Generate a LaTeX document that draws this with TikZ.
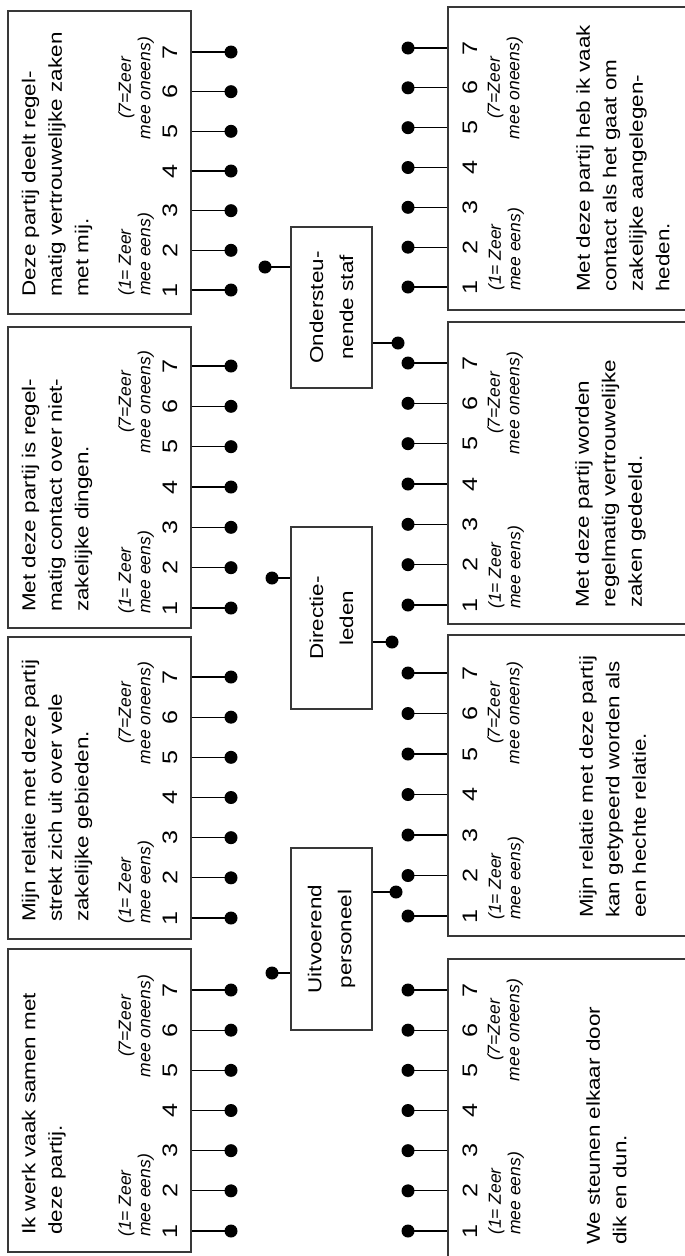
\documentclass[tikz,border=0pt]{standalone}
\usepackage{fontspec}
\setmainfont{Liberation Sans}[FakeStretch=1.2]
\newfontfamily\lblfont{Liberation Sans}
\begin{document}
\begin{tikzpicture}[x=1pt,y=-1pt,
  frame/.style={draw=black!78, line width=1.1pt, fill=white, inner sep=0pt},
  dot/.style={circle, fill=black, inner sep=0pt, minimum size=13pt},
  link/.style={draw=black, line width=1.2pt},
  stmt/.style={rotate=90, align=left, inner sep=0pt, anchor=north west,
    font=\fontsize{18.7}{26.5}\selectfont},
  group/.style={rotate=90, align=center, inner sep=0pt,
    font=\fontsize{18.7}{30}\selectfont},
  num/.style={rotate=90, inner sep=0pt, font=\fontsize{21}{21}\selectfont},
  scalelbl/.style={rotate=90, inner sep=0pt, font=\lblfont\itshape\fontsize{17.5}{19.5}\selectfont}
]
\useasboundingbox (0,0) rectangle (685,1256);
\clip (0,0) rectangle (685,1256);

% statement boxes, left column
\node[frame, minimum width=183pt, minimum height=303pt] (L1) at (99.5,162.5) {};
\node[frame, minimum width=183pt, minimum height=301pt] (L2) at (99.5,477.5) {};
\node[frame, minimum width=183pt, minimum height=302pt] (L3) at (99.5,788) {};
\node[frame, minimum width=183pt, minimum height=303pt] (L4) at (99.5,1100.5) {};

% statement boxes, right column
\node[frame, minimum width=272pt, minimum height=303pt] (R1) at (584,158.5) {};
\node[frame, minimum width=272pt, minimum height=302pt] (R2) at (584,473) {};
\node[frame, minimum width=272pt, minimum height=301pt] (R3) at (584,785.5) {};
\node[frame, minimum width=272pt, minimum height=303pt] (R4) at (584,1110.5) {};

% group boxes in the middle
\node[frame, minimum width=81pt, minimum height=161pt] (C1) at (331.5,307.5) {};
\node[frame, minimum width=81pt, minimum height=182pt] (C2) at (331.5,618) {};
\node[frame, minimum width=81pt, minimum height=182pt] (C3) at (331.5,939) {};

\node[group] (C1t) at (C1) {Ondersteu-\\nende staf};
\node[group] (C2t) at (C2) {Directie-\\leden};
\node[group] (C3t) at (C3) {Uitvoerend\\personeel};

% group connectors
\node[dot] (C1a) at (265,267) {};
\node[dot] (C1b) at (398,343) {};
\node[dot] (C2a) at (272,578) {};
\node[dot] (C2b) at (392,642) {};
\node[dot] (C3a) at (272,973) {};
\node[dot] (C3b) at (396,892) {};
\draw[link] (C1a.center) -- (C1a.center -| C1.west);
\draw[link] (C1b.center) -- (C1b.center -| C1.east);
\draw[link] (C2a.center) -- (C2a.center -| C2.west);
\draw[link] (C2b.center) -- (C2b.center -| C2.east);
\draw[link] (C3a.center) -- (C3a.center -| C3.west);
\draw[link] (C3b.center) -- (C3b.center -| C3.east);

% seven-point scales, left column
\foreach \b/\ya/\yg in {L1/290/52, L2/608/366, L3/918/677, L4/1231/990} {
  \foreach \k in {1,...,7} {
    \pgfmathsetmacro\yy{\ya+(\yg-\ya)*(\k-1)/6}
    \node[dot] (\b-\k) at (231,\yy) {};
    \draw[link] (\b-\k.center) -- (\b-\k.center -| \b.east);
    \node[num] (\b-n\k) at (170,\yy) {\k};
  }
  \node[scalelbl, align=left, anchor=north west] (\b-lo) at (118,\ya+6) {(1= Zeer\\mee eens)};
  \node[scalelbl, align=center] (\b-hi) at (136,\yg+36) {(7=Zeer\\mee oneens)};
}

% seven-point scales, right column
\foreach \b/\ya/\yg in {R1/287/48, R2/605/363, R3/916/673, R4/1231/990} {
  \foreach \k in {1,...,7} {
    \pgfmathsetmacro\yy{\ya+(\yg-\ya)*(\k-1)/6}
    \node[dot] (\b-\k) at (408,\yy) {};
    \draw[link] (\b-\k.center) -- (\b-\k.center -| \b.west);
    \node[num] (\b-n\k) at (470,\yy) {\k};
  }
  \node[scalelbl, align=left, anchor=north west] (\b-lo) at (488,\ya+4) {(1= Zeer\\mee eens)};
  \node[scalelbl, align=center] (\b-hi) at (505,\yg+40) {(7=Zeer\\mee oneens)};
}

% statements
\node[stmt] (L1t) at (21.5,297) {Deze partij deelt regel-\\matig vertrouwelijke zaken\\met mij.};
\node[stmt] (L2t) at (21.5,612) {Met deze partij is regel-\\matig contact over niet-\\zakelijke dingen.};
\node[stmt] (L3t) at (21.5,922) {Mijn relatie met deze partij\\strekt zich uit over vele\\zakelijke gebieden.};
\node[stmt] (L4t) at (21.5,1235) {Ik werk vaak samen met\\deze partij.};

\node[stmt] (R1t) at (576,292) {Met deze partij heb ik vaak\\contact als het gaat om\\zakelijke aangelegen-\\heden.};
\node[stmt] (R2t) at (575,608) {Met deze partij worden\\regelmatig vertrouwelijke\\zaken gedeeld.};
\node[stmt] (R3t) at (579,918) {Mijn relatie met deze partij\\kan getypeerd worden als\\een hechte relatie.};
\node[stmt] (R4t) at (586,1245) {We steunen elkaar door\\dik en dun.};
\end{tikzpicture}
\end{document}
